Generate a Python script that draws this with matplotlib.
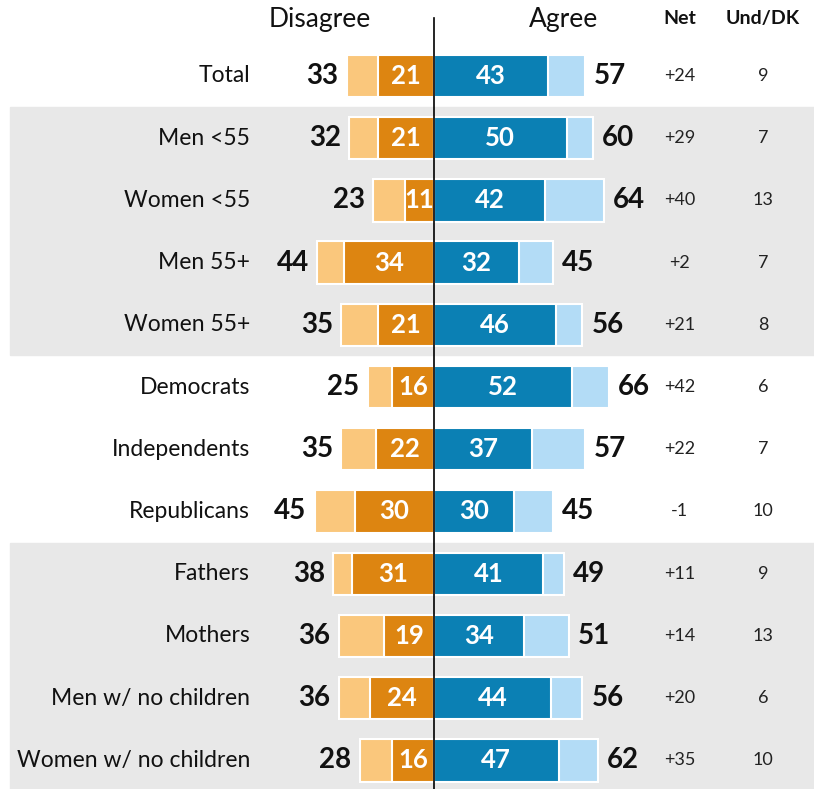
import matplotlib.pyplot as plt

plt.rcParams['font.family'] = ['Lato', 'DejaVu Sans']

# Data
groups = ["Total", "Men <55", "Women <55", "Men 55+", "Women 55+",
          "Democrats", "Independents", "Republicans",
          "Fathers", "Mothers", "Men w/ no children", "Women w/ no children"]
disagree = [33, 32, 23, 44, 35, 25, 35, 45, 38, 36, 36, 28]
strong_disagree = [21, 21, 11, 34, 21, 16, 22, 30, 31, 19, 24, 16]
strong_agree = [43, 50, 42, 32, 46, 52, 37, 30, 41, 34, 44, 47]
agree = [57, 60, 64, 45, 56, 66, 57, 45, 49, 51, 56, 62]
net = ["+24", "+29", "+40", "+2", "+21", "+42", "+22", "-1", "+11", "+14", "+20", "+35"]
und_dk = [9, 7, 13, 7, 8, 6, 7, 10, 9, 13, 6, 10]

light_orange = "#FAC77C"
dark_orange = "#DD8511"
dark_blue = "#0B80B4"
light_blue = "#B3DCF6"

fig = plt.figure(figsize=(8.14, 7.89), dpi=100)
ax = fig.add_axes([0, 0, 1, 1])
ax.set_xlim(-163.8, 143.4)
ax.set_ylim(11.46, -1.22)
ax.axis("off")

# Grey bands
ax.axhspan(0.5, 4.49, xmin=0.012, xmax=1, color="#E8E8E8", zorder=0)
ax.axhspan(7.5, 11.46, xmin=0.012, xmax=1, color="#E8E8E8", zorder=0)

y = list(range(len(groups)))
h = 0.68

# Disagree bars (left)
ax.barh(y, [-d for d in disagree], height=h, color=light_orange,
        edgecolor="white", linewidth=1.5, zorder=2)
ax.barh(y, [-s for s in strong_disagree], height=h, color=dark_orange,
        edgecolor="white", linewidth=1.5, zorder=3)
# Agree bars (right)
ax.barh(y, agree, height=h, color=light_blue,
        edgecolor="white", linewidth=1.5, zorder=2)
ax.barh(y, strong_agree, height=h, color=dark_blue,
        edgecolor="white", linewidth=1.5, zorder=3)

ax.plot([0, 0], [-0.93, 11.46], color="black", linewidth=1.2, zorder=4)

for i in y:
    ax.text(-69.4, i, groups[i], ha="right", va="center", fontsize=16.5, color="#111111")
    ax.text(-disagree[i] - 3.2, i, str(disagree[i]), ha="right", va="center",
            fontsize=20, fontweight="bold", color="#111111")
    ax.text(-strong_disagree[i] / 2, i, str(strong_disagree[i]), ha="center", va="center",
            fontsize=18.5, fontweight="bold", color="white", zorder=5)
    ax.text(strong_agree[i] / 2, i, str(strong_agree[i]), ha="center", va="center",
            fontsize=18.5, fontweight="bold", color="white", zorder=5)
    ax.text(agree[i] + 3.4, i, str(agree[i]), ha="left", va="center",
            fontsize=20, fontweight="bold", color="#111111")
    ax.text(92.8, i, net[i], ha="center", va="center", fontsize=13, color="#222222")
    ax.text(124.2, i, str(und_dk[i]), ha="center", va="center", fontsize=13, color="#222222")

# Headers
ax.text(-43, -0.9, "Disagree", ha="center", va="center", fontsize=19, color="#111111")
ax.text(48.7, -0.9, "Agree", ha="center", va="center", fontsize=19, color="#111111")
ax.text(92.8, -0.92, "Net", ha="center", va="center", fontsize=14, fontweight="bold", color="#111111")
ax.text(124.2, -0.92, "Und/DK", ha="center", va="center", fontsize=14, fontweight="bold", color="#111111")

fig.savefig("out.png", dpi=100)
